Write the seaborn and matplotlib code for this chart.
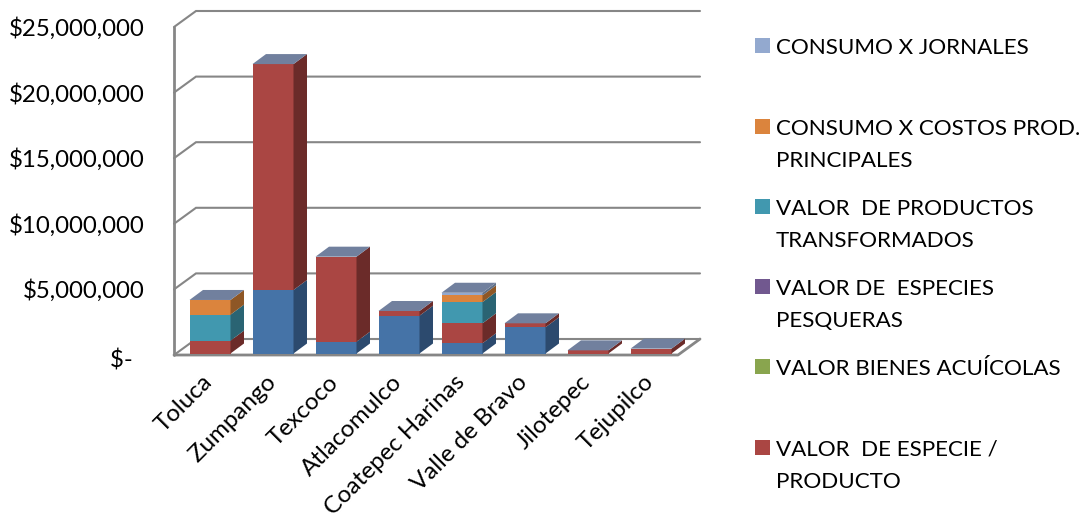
import matplotlib
matplotlib.use("Agg")
import matplotlib.pyplot as plt
from matplotlib.patches import Polygon, Rectangle
from matplotlib.transforms import ScaledTranslation
import numpy as np
import seaborn as sns

municipios = ["Toluca", "Zumpango", "Texcoco", "Atlacomulco", "Coatepec Harinas",
              "Valle de Bravo", "Jilotepec", "Tejupilco"]

# stack order, bottom to top (the blue one has no legend entry in the original)
sin_leyenda = [0, 4840000, 900000, 2880000, 780000, 2000000, 0, 0]
especie_producto = [980000, 17220000, 6480000, 360000, 1520000, 300000, 240000, 370000]
productos_transformados = [1980000, 0, 0, 0, 1620000, 0, 0, 0]
costos_prod = [1120000, 0, 0, 0, 510000, 0, 0, 0]
jornales = [0, 0, 0, 0, 200000, 0, 0, 0]

y_ticks = [0, 5000000, 10000000, 15000000, 20000000, 25000000]
y_tick_labels = ["$-  ", "$5,000,000", "$10,000,000", "$15,000,000", "$20,000,000", "$25,000,000"]

legend_labels = [
    "CONSUMO X JORNALES",
    "CONSUMO X COSTOS PROD.\nPRINCIPALES",
    "VALOR  DE PRODUCTOS\nTRANSFORMADOS",
    "VALOR DE  ESPECIES\nPESQUERAS",
    "VALOR BIENES ACUÍCOLAS",
    "VALOR  DE ESPECIE /\nPRODUCTO",
]
legend_colors = ["#93A9CF", "#DB843D", "#4198AF", "#71588F", "#89A54E", "#AA4643"]

sns.set_style("white")
plt.rcParams["font.family"] = ["Lato", "DejaVu Sans"]

W, H = 1084, 521
fig = plt.figure(figsize=(W / 100, H / 100), dpi=100)
ax = fig.add_axes([174 / W, (H - 353.5) / H, 504 / W, 328 / H])

series = [
    (sin_leyenda, "#4573A7", "#2C4A6E"),
    (especie_producto, "#AA4643", "#6B2B29"),
    (productos_transformados, "#4198AF", "#2A6473"),
    (costos_prod, "#DB843D", "#8E5726"),
    (jornales, "#93A9CF", "#5F7088"),
]

bottoms = np.zeros(len(municipios))
for values, front, side in series:
    sns.barplot(x=municipios, y=values, bottom=bottoms, color=front, saturation=1,
                width=41 / 63, ax=ax, zorder=3, linewidth=0, edgecolor="none")
    bottoms = bottoms + np.array(values)

px_x = 1 / 63
px_y = 5000000 / 65.6
ax.set_xlim(-36 * px_x, 468 * px_x)
ax.set_ylim(0, 25000000)
x0, x1 = ax.get_xlim()

# depth of the bars and of the walls, in data units
bar_dx, bar_dy = 13.5 * px_x, 10 * px_y
wall_dx, wall_dy = 22 * px_x, 16 * px_y
shift = 1.5 * px_y
grid_color = "#868686"

# walls and floor
for v in y_ticks:
    ax.plot([x0, x0 + wall_dx, x1 + wall_dx], [v - shift, v - shift + wall_dy, v - shift + wall_dy],
            color=grid_color, lw=1.5, clip_on=False, zorder=1, solid_joinstyle="miter")
ax.plot([x0, x0], [-shift, 25000000 - shift], color=grid_color, lw=2, clip_on=False, zorder=2)
ax.plot([x0, x1, x1 + wall_dx], [-shift, -shift, wall_dy - shift], color=grid_color, lw=2,
        clip_on=False, zorder=2)

# side faces, one per stacked segment, then the lid of each bar
bottoms = np.zeros(len(municipios))
for values, front, side in series:
    for i, v in enumerate(values):
        if v == 0:
            continue
        right = i + 41 / 63 / 2
        b = bottoms[i]
        ax.add_patch(Polygon([(right, b), (right + bar_dx, b + bar_dy),
                              (right + bar_dx, b + v + bar_dy), (right, b + v)],
                             facecolor=side, edgecolor="none", clip_on=False, zorder=3))
    bottoms = bottoms + np.array(values)
for i, total in enumerate(bottoms):
    left = i - 41 / 63 / 2
    right = i + 41 / 63 / 2
    ax.add_patch(Polygon([(left, total), (right, total), (right + bar_dx, total + bar_dy),
                          (left + bar_dx, total + bar_dy)],
                         facecolor="#71809E", edgecolor="none", clip_on=False, zorder=3))

sns.despine(ax=ax, left=True, bottom=True)
ax.set_yticks(y_ticks)
ax.set_yticklabels(y_tick_labels, fontsize=17.3, color="black")
ax.tick_params(axis="y", length=0, pad=21)
ax.tick_params(axis="x", length=0, pad=0)
for t, v in zip(ax.get_yticklabels(), y_ticks):
    # zero label sits lower than its gridline in the original
    down = 5 if v == 0 else 1
    t.set_transform(t.get_transform() + ScaledTranslation(0, -down / 100, fig.dpi_scale_trans))
xlab_shift = ScaledTranslation(-8 / 100, -18 / 100, fig.dpi_scale_trans)
for t in ax.get_xticklabels():
    t.set(rotation=45, ha="right", rotation_mode="anchor", fontsize=17.4, color="black")
    t.set_transform(t.get_transform() + xlab_shift)
ax.set_xlabel("")
ax.set_ylabel("")

# legend is spaced by hand, first line of a wrapped label sits next to the square
legend_tops = [38, 119, 199, 279, 359, 440]
for label, color, top in zip(legend_labels, legend_colors, legend_tops):
    fig.add_artist(Rectangle((755 / W, (H - top - 15) / H), 15 / W, 15 / H, facecolor=color,
                             edgecolor="none", transform=fig.transFigure))
    fig.text(776 / W, (H - top) / H, label, fontsize=16.1, va="top", ha="left", color="black",
             linespacing=1.75)

fig.savefig("out.png", dpi=100)
